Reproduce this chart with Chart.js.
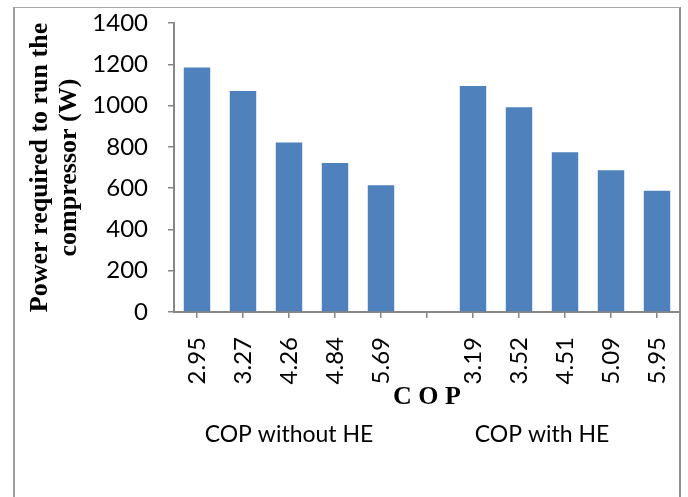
<!DOCTYPE html>
<html>
<head>
<meta charset="utf-8">
<script src="https://cdn.jsdelivr.net/npm/chart.js@4.4.1/dist/chart.umd.min.js"></script>
<style>
  html, body { margin: 0; padding: 0; background: #ffffff; }
  #wrap { position: relative; width: 688px; height: 497px; overflow: hidden; }
  #frame {
    position: absolute; left: 13px; top: 7px; width: 668px; height: 540px;
    box-sizing: border-box;
    border-left: 2px solid #9c9c9c;
    border-top: 1px solid #a8a8a8;
    border-right: 2px solid #8e8e8e;
  }
  #chart { position: absolute; left: 0; top: 0; }
</style>
</head>
<body>
<div id="wrap">
  <div id="frame"></div>
  <canvas id="chart" width="688" height="497"></canvas>
</div>
<script>
// COP values for each bar (blank entry separates the two groups)
const categories = ['2.95', '3.27', '4.26', '4.84', '5.69', '', '3.19', '3.52', '4.51', '5.09', '5.95'];
// Compressor power in watts
const powerWatts = [1185, 1070, 821, 722, 614, null, 1095, 992, 774, 687, 587];
// Second-level category groups: name, first and last category index
const groupNames = ['COP without HE', 'COP with HE'];
const groupFirst = [0, 5];
const groupLast = [4, 10];
// Value axis
const yMin = 0, yMax = 1400, yStep = 200;

const sansFont = 'Lato';
const serifFont = '"Liberation Serif"';
const axisGray = '#868686';

// Draws the group names under the axis title
const groupLabels = {
  id: 'groupLabels',
  afterDraw(chart) {
    const x = chart.scales.x;
    const ctx = chart.ctx;
    const half = (x.getPixelForValue(1) - x.getPixelForValue(0)) / 2;
    ctx.save();
    ctx.font = '23px ' + sansFont;
    ctx.fillStyle = '#000000';
    ctx.textAlign = 'center';
    ctx.textBaseline = 'middle';
    groupNames.forEach((name, i) => {
      const left = x.getPixelForValue(groupFirst[i]) - half;
      const right = x.getPixelForValue(groupLast[i]) + half;
      ctx.fillText(name, (left + right) / 2, x.bottom + 22);
    });
    ctx.restore();
  }
};

function draw() {
  new Chart(document.getElementById('chart'), {
    type: 'bar',
    data: {
      labels: categories,
      datasets: [{
        data: powerWatts,
        backgroundColor: '#4F81BD',
        borderWidth: 0,
        categoryPercentage: 1,
        barPercentage: 0.575
      }]
    },
    options: {
      responsive: false,
      animation: false,
      devicePixelRatio: 1,
      layout: { padding: { top: 23, right: 8, bottom: 84, left: 0 } },
      plugins: {
        legend: { display: false },
        tooltip: { enabled: false }
      },
      scales: {
        x: {
          type: 'category',
          offset: true,
          grid: {
            display: true, drawOnChartArea: false, offset: false,
            tickLength: 6, color: axisGray, lineWidth: 1.5
          },
          border: { display: true, color: axisGray, width: 2 },
          ticks: {
            autoSkip: false, minRotation: 90, maxRotation: 90, padding: 19,
            color: '#000000', font: { family: sansFont, size: 24 }
          },
          title: {
            display: true, text: 'C O P', color: '#000000',
            font: { family: serifFont, size: 26, weight: 'bold', lineHeight: 1.2 },
            padding: { top: 0, bottom: 0 }
          },
          afterFit(scale) {
            scale.height = 101;
            scale.paddingLeft = 0;
            scale.paddingRight = 0;
          }
        },
        y: {
          min: yMin, max: yMax,
          grid: {
            display: true, drawOnChartArea: false,
            tickLength: 6, color: axisGray, lineWidth: 1.5
          },
          border: { display: true, color: axisGray, width: 2 },
          ticks: {
            stepSize: yStep, padding: 20,
            color: '#000000', font: { family: sansFont, size: 24 },
            callback: (value) => String(value)
          },
          title: {
            display: true,
            text: ['Power required to run the', 'compressor (W)'],
            color: '#000000',
            font: { family: serifFont, size: 26, weight: 'bold', lineHeight: 1.12 },
            padding: { top: 26, bottom: 0 }
          },
          afterFit(scale) {
            scale.width = 174;
            scale.paddingTop = 0;
            scale.paddingBottom = 0;
          }
        }
      }
    },
    plugins: [groupLabels]
  });
}

Promise.all([
  document.fonts.load('24px ' + sansFont),
  document.fonts.load('bold 26px ' + serifFont)
]).then(draw, draw);
</script>
</body>
</html>
